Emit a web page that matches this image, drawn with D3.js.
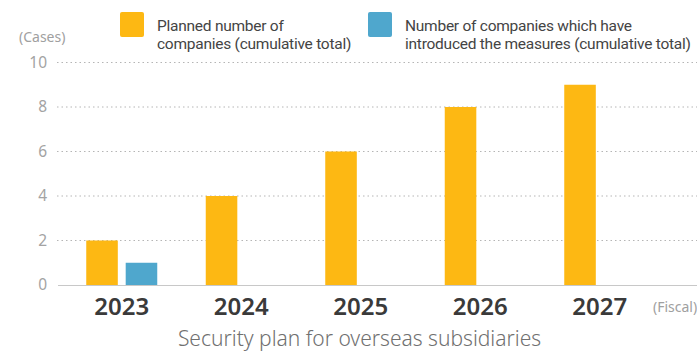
<!DOCTYPE html>
<html>
<head>
<meta charset="utf-8">
<script src="https://cdn.jsdelivr.net/npm/d3@7"></script>
<style>
  html, body { margin: 0; padding: 0; background: #fff; }
  svg { display: block; font-family: "Noto Sans", "Open Sans", sans-serif; }
</style>
</head>
<body>
<svg id="chart" width="697" height="352"></svg>
<script>
// Fiscal years and series values (cumulative totals)
const years = ["2023", "2024", "2025", "2026", "2027"];
const planned = [2, 4, 6, 8, 9];
const introduced = [1, null, null, null, null];
const yTicks = [0, 2, 4, 6, 8, 10];
const colors = ["#FDB813", "#4FA7CD"];

const svg = d3.select("#chart");

const x0 = d3.scaleBand().domain(years).range([62, 659.5]).padding(0);
const x1 = d3.scaleBand().domain([0, 1]).range([-35.5, 35.5]).paddingInner(0.2);
const y = d3.scaleLinear().domain([0, 10]).range([285, 62.5]);

// Dotted gridlines
svg.append("g")
  .selectAll("line")
  .data(yTicks.filter(d => d > 0))
  .join("line")
  .attr("x1", 57).attr("x2", 697)
  .attr("y1", d => y(d)).attr("y2", d => y(d))
  .attr("stroke", "#b5b5b5")
  .attr("stroke-width", 1)
  .attr("stroke-dasharray", "1.5,3");

// Y axis labels
const yAxis = d3.axisLeft(y).tickValues(yTicks).tickSize(0).tickPadding(0);
svg.append("g")
  .attr("transform", "translate(47,0)")
  .call(yAxis)
  .call(g => g.select(".domain").remove())
  .call(g => g.selectAll("text")
    .attr("font-size", 15.5)
    .attr("fill", "#a3a3a3")
    .attr("font-family", "Noto Sans, sans-serif"));

// Bars
const rows = years.map((yr, i) => ({ yr, vals: [planned[i], introduced[i]] }));
const groups = svg.append("g").selectAll("g")
  .data(rows)
  .join("g")
  .attr("transform", d => `translate(${x0(d.yr) + x0.bandwidth() / 2},0)`);

groups.selectAll("rect")
  .data(d => d.vals.map((v, k) => ({ v, k })).filter(e => e.v != null))
  .join("rect")
  .attr("x", e => x1(e.k))
  .attr("width", x1.bandwidth())
  .attr("y", e => y(e.v))
  .attr("height", e => y(0) - y(e.v))
  .attr("fill", e => colors[e.k]);

// Baseline
svg.append("line")
  .attr("x1", 58).attr("x2", 697)
  .attr("y1", y(0) + 0.5).attr("y2", y(0) + 0.5)
  .attr("stroke", "#c8c8c8").attr("stroke-width", 1);

// X axis labels
const xAxis = d3.axisBottom(x0).tickSize(0).tickPadding(0);
svg.append("g")
  .attr("transform", "translate(0,315)")
  .call(xAxis)
  .call(g => g.select(".domain").remove())
  .call(g => g.selectAll("text")
    .attr("y", 0).attr("dy", 0)
    .attr("font-size", 24)
    .attr("font-weight", 600)
    .attr("fill", "#3a3a3a")
    .attr("font-family", "Noto Sans, sans-serif"));

// Unit labels
svg.append("text")
  .attr("x", 19).attr("y", 42)
  .attr("font-size", 14).attr("fill", "#a0a0a0")
  .text("(Cases)");

svg.append("text")
  .attr("x", 653).attr("y", 312)
  .attr("font-size", 14).attr("fill", "#a0a0a0")
  .text("(Fiscal)");

// Legend: swatch plus a two-line label per series
const legendLines = [
  ["Planned number of", "companies (cumulative total)"],
  ["Number of companies which have", "introduced the measures (cumulative total)"]
];
const legendX = [120, 368];
legendLines.forEach((lines, k) => {
  const g = svg.append("g").attr("transform", `translate(${legendX[k]},0)`);
  g.append("rect")
    .attr("x", 0).attr("y", 12).attr("width", 24).attr("height", 25)
    .attr("rx", 2).attr("fill", colors[k]);
  lines.forEach((t, j) => {
    g.append("text")
      .attr("x", 37).attr("y", 30.5 + j * 18)
      .attr("font-family", "Roboto, sans-serif")
      .attr("font-size", 15.5)
      .attr("letter-spacing", -0.25)
      .attr("fill", "#444")
      .text(t);
  });
});

// Caption
svg.append("text")
  .attr("x", 359.5).attr("y", 346)
  .attr("text-anchor", "middle")
  .attr("font-size", 21).attr("fill", "#707070")
  .attr("font-weight", 300)
  .text("Security plan for overseas subsidiaries");
</script>
</body>
</html>
